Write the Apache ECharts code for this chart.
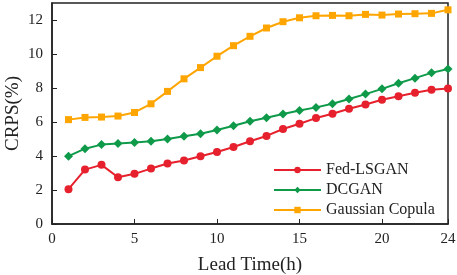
<!DOCTYPE html>
<html><head><meta charset="utf-8">
<script src="https://cdn.jsdelivr.net/npm/echarts@6/dist/echarts.min.js"></script>
<style>html,body{margin:0;padding:0;background:#fff}#c{width:457px;height:275px}</style>
</head><body><div id="c"></div>
<script>
var leadTime = [1,2,3,4,5,6,7,8,9,10,11,12,13,14,15,16,17,18,19,20,21,22,23,24];
var fedLSGAN = [2.05,3.2,3.48,2.75,2.95,3.26,3.56,3.73,3.98,4.24,4.53,4.87,5.18,5.59,5.9,6.23,6.49,6.78,7.03,7.31,7.52,7.72,7.9,7.97];
var dcgan = [3.99,4.43,4.67,4.73,4.79,4.87,5.0,5.16,5.31,5.53,5.78,6.04,6.25,6.47,6.68,6.86,7.07,7.35,7.64,7.95,8.28,8.58,8.89,9.12];
var gaussianCopula = [6.14,6.27,6.29,6.35,6.56,7.07,7.8,8.54,9.2,9.87,10.49,11.04,11.53,11.9,12.13,12.25,12.27,12.25,12.33,12.29,12.35,12.37,12.39,12.6];
var xTicks = [0,5,10,15,20,24];
var seriesNames = ['Fed-LSGAN','DCGAN','Gaussian Copula'];

function pairs(v){ return leadTime.map(function(x,i){return [x,v[i]];}); }
var font = 'Liberation Serif';
var chart = echarts.init(document.getElementById('c'));
function mk(name, data, color, symbol, size){
  return {name:name,type:'line',data:pairs(data),symbol:symbol,symbolSize:size,
    lineStyle:{color:color,width:2},itemStyle:{color:color},showSymbol:true};
}
chart.setOption({
  animation:false,
  grid:{left:52,right:9,top:3,bottom:51,containLabel:false,outerBoundsMode:'none'},
  legend:{orient:'vertical',left:268,top:157,itemWidth:47,itemHeight:8,itemGap:4,
    textStyle:{fontFamily:font,fontSize:16,color:'#222'},
    data:seriesNames},
  xAxis:{type:'value',min:0,max:24,
    name:'Lead Time(h)',nameLocation:'middle',nameGap:32,nameMoveOverlap:false,
    nameTextStyle:{fontFamily:font,fontSize:19,color:'#222'},
    axisLine:{lineStyle:{color:'#222',width:1.5}},
    axisTick:{inside:true,length:5,lineStyle:{color:'#222'},customValues:xTicks},
    axisLabel:{fontFamily:font,fontSize:15,color:'#222',margin:8,customValues:xTicks},
    splitLine:{show:false}},
  yAxis:{type:'value',min:0,max:13,interval:2,
    name:'CRPS(%)',nameLocation:'middle',nameGap:29,nameMoveOverlap:false,
    nameTextStyle:{fontFamily:font,fontSize:19,color:'#222'},
    axisLine:{lineStyle:{color:'#222',width:1.5}},
    axisTick:{inside:true,length:5,lineStyle:{color:'#222'}},
    axisLabel:{fontFamily:font,fontSize:15,color:'#222',margin:9,showMaxLabel:false},
    splitLine:{show:false}},
  series:[
    mk(seriesNames[0],fedLSGAN,'#e6202c','circle',8),
    mk(seriesNames[1],dcgan,'#0f9a4a','diamond',9),
    mk(seriesNames[2],gaussianCopula,'#ffa500','rect',7)
  ]
});
var gr = chart.getModel().getComponent('grid').coordinateSystem.getRect();
chart.setOption({graphic:[{type:'rect',shape:{x:gr.x,y:gr.y,width:gr.width,height:gr.height},
  style:{fill:'none',stroke:'#222',lineWidth:1.5},silent:true,z:-1}]});
</script></body></html>
